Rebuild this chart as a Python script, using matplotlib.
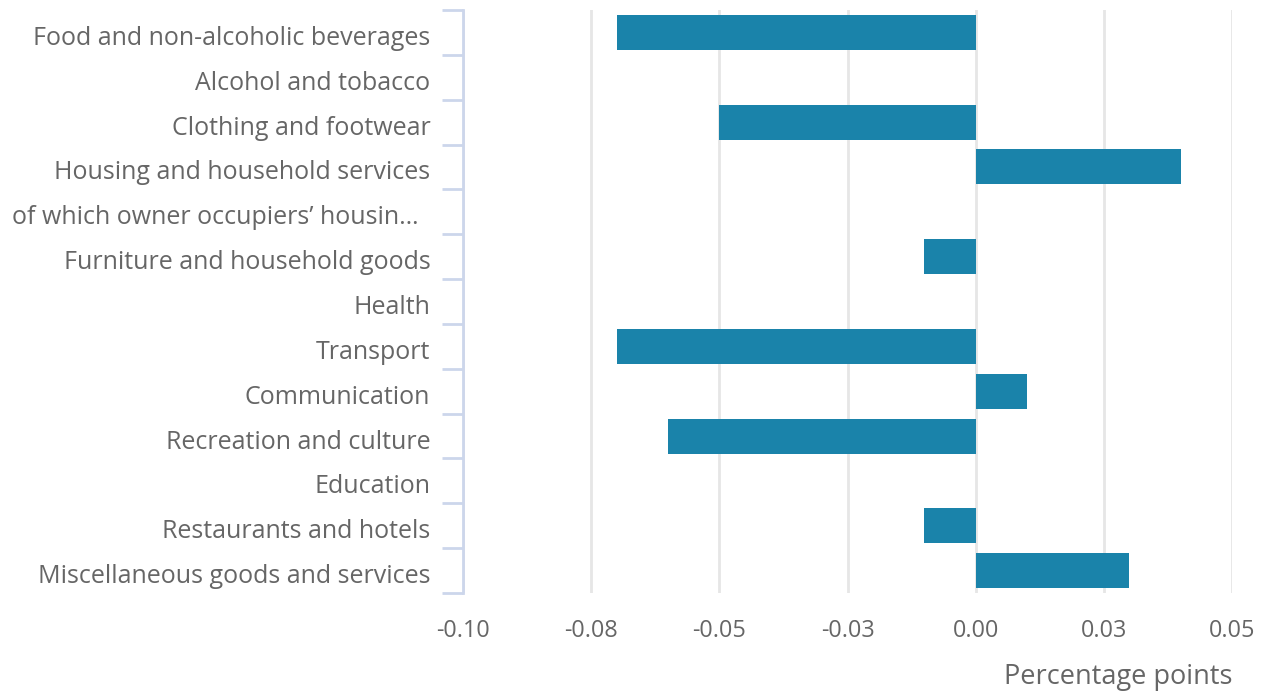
import matplotlib
matplotlib.use("Agg")
import matplotlib.pyplot as plt
from matplotlib.ticker import FixedLocator
from matplotlib.transforms import ScaledTranslation

categories = [
    "Food and non-alcoholic beverages",
    "Alcohol and tobacco",
    "Clothing and footwear",
    "Housing and household services",
    "of which owner occupiers\u2019 housin\u2026",
    "Furniture and household goods",
    "Health",
    "Transport",
    "Communication",
    "Recreation and culture",
    "Education",
    "Restaurants and hotels",
    "Miscellaneous goods and services",
]
values = [-0.07, 0.0, -0.05, 0.04, 0.0, -0.01, 0.0, -0.07, 0.01, -0.06, 0.0, -0.01, 0.03]
xticks = [-0.1, -0.075, -0.05, -0.025, 0.0, 0.025, 0.05]
xtick_labels = ["-0.10", "-0.08", "-0.05", "-0.03", "0.00", "0.03", "0.05"]
xlabel = "Percentage points"

plt.rcParams["font.family"] = ["Open Sans", "DejaVu Sans"]
text_color = "#666666"

fig = plt.figure(figsize=(12.64, 6.92), dpi=100)
ax = fig.add_axes([463 / 1264, 1 - 593 / 692, (1232 - 463) / 1264, (593 - 10) / 692])

n = len(categories)
ypos = list(range(n))
ax.barh(ypos, values, height=0.78, color="#1a83aa", zorder=3)
ax.set_ylim(n - 0.5, -0.5)
ax.set_xlim(-0.1, 0.05)

ax.set_yticks(ypos)
ax.set_yticklabels(categories, fontsize=18, color=text_color)
ax.yaxis.set_minor_locator(FixedLocator([i - 0.5 for i in range(n + 1)]))
ax.tick_params(axis="y", which="major", length=0, pad=23.5)
ax.tick_params(axis="y", which="minor", length=15, width=2, color="#ccd6eb")

for i, lab in enumerate(ax.get_yticklabels()):
    dx = -0.12 if i == 4 else 0.0
    lab.set_transform(lab.get_transform() + ScaledTranslation(dx, -0.03, fig.dpi_scale_trans))

ax.set_xticks(xticks)
ax.set_xticklabels(xtick_labels, fontsize=16.8, color=text_color)
ax.tick_params(axis="x", length=0, pad=19)
ax.grid(axis="x", color="#e6e6e6", linewidth=2, zorder=0)

for s in ["top", "right", "bottom"]:
    ax.spines[s].set_visible(False)
ax.spines["left"].set_color("#ccd6eb")
ax.spines["left"].set_linewidth(2)

ax.set_xlabel(xlabel, fontsize=19.5, color=text_color, loc="right", labelpad=14)

fig.savefig("out.png", dpi=100)
